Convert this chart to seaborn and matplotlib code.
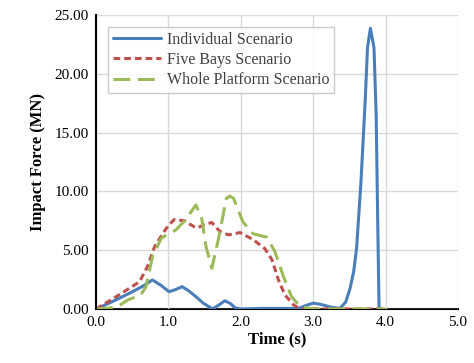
import matplotlib
matplotlib.use("Agg")
import matplotlib.pyplot as plt
import seaborn as sns
import pandas as pd

ind_t = [0, 0.2, 0.46, 0.65, 0.78, 0.9, 1.01, 1.1, 1.19, 1.28, 1.38, 1.48, 1.56, 1.61,
         1.7, 1.78, 1.86, 1.92, 2.0, 2.3, 2.6, 2.8, 2.9, 3.0, 3.1, 3.25, 3.37, 3.45,
         3.51, 3.56, 3.60, 3.66, 3.72, 3.75, 3.79, 3.84, 3.87, 3.89, 3.91]
ind_f = [0, 0.55, 1.33, 1.95, 2.47, 2.0, 1.47, 1.65, 1.9, 1.55, 1.05, 0.5, 0.2, 0.0,
         0.35, 0.7, 0.45, 0.1, 0.0, 0.05, 0.05, 0.05, 0.3, 0.5, 0.4, 0.15, 0.05, 0.6,
         1.76, 3.2, 5.2, 10.8, 17.9, 22.2, 23.87, 22.2, 16.5, 8.0, 0.0]

five_t = [0, 0.28, 0.46, 0.60, 0.71, 0.81, 0.92, 1.0, 1.08, 1.22, 1.38, 1.44, 1.5,
          1.60, 1.71, 1.83, 1.99, 2.17, 2.33, 2.43, 2.52, 2.61, 2.73, 2.82, 3.0, 4.0]
five_f = [0, 1.05, 1.76, 2.3, 3.6, 5.3, 6.4, 7.1, 7.6, 7.5, 6.9, 7.0, 7.2,
          7.35, 6.6, 6.3, 6.5, 5.9, 5.15, 4.2, 2.47, 1.2, 0.34, 0.0, 0.0, 0.0]

whole_t = [0, 0.15, 0.3, 0.44, 0.62, 0.69, 0.78, 0.90, 1.0, 1.10, 1.24, 1.38, 1.46,
           1.52, 1.60, 1.69, 1.80, 1.85, 1.90, 2.03, 2.17, 2.36, 2.47, 2.59, 2.70,
           2.82, 3.0, 4.0]
whole_f = [0, 0.05, 0.2, 0.77, 1.2, 1.9, 4.45, 6.0, 6.4, 6.7, 7.6, 8.85, 7.7,
           5.3, 3.46, 5.9, 9.4, 9.6, 9.4, 7.4, 6.4, 6.1, 4.9, 2.75, 1.05,
           0.2, 0.0, 0.0]

names = ["Individual Scenario", "Five Bays Scenario", "Whole Platform Scenario"]
x_ticks = [0, 1, 2, 3, 4, 5]
y_ticks = [0, 5, 10, 15, 20, 25]

sns.set_style("white")
plt.rcParams['font.family'] = ['Liberation Serif', 'DejaVu Serif']

fig = plt.figure(figsize=(4.74, 3.63), dpi=100)
ax = fig.add_axes([0.2025, 0.1488, 0.7637, 0.81])

colors = ["#4A7EBB", "#C0504D", "#9BBB59"]
series = [(ind_t, ind_f), (five_t, five_f), (whole_t, whole_f)]
dashes = [None, (2.2, 1.3), (5.5, 2.5)]
for (t, f), name, c, d in zip(series, names, colors, dashes):
    df = pd.DataFrame({"t": t, "f": f})
    sns.lineplot(data=df, x="t", y="f", ax=ax, color=c, lw=2.2, label=name)
    l = ax.get_lines()[-1]
    l.set_solid_joinstyle("round")
    l.set_dash_joinstyle("round")
    if d is not None:
        l.set_dashes(d)

ax.set_xlim(0, 5)
ax.set_ylim(0, 25)
ax.set_xticks(x_ticks)
ax.set_xticklabels([f"{v:.1f}" for v in x_ticks])
ax.set_yticks(y_ticks)
ax.set_yticklabels([f"{v:.2f}" for v in y_ticks])
ax.tick_params(labelsize=11, length=0, pad=5, labelcolor="black")
ax.grid(True, color="#D9D9D9", lw=1)
ax.set_axisbelow(True)
for s in ["top", "right"]:
    ax.spines[s].set_visible(False)
ax.spines["left"].set_color("black")
ax.spines["left"].set_linewidth(1.5)
ax.spines["bottom"].set_color("black")
ax.spines["bottom"].set_linewidth(1.5)
ax.spines["bottom"].set_zorder(0.5)

ax.set_xlabel("Time (s)", fontsize=12, fontweight="bold", labelpad=2, color="black")
ax.set_ylabel("Impact Force (MN)", fontsize=12, fontweight="bold", labelpad=6, color="black")

leg = ax.legend(loc="upper left", bbox_to_anchor=(0.033, 0.96), fontsize=11.5,
                frameon=True, fancybox=False, edgecolor="#BFBFBF",
                handlelength=3.0, borderpad=0.3, labelspacing=0.28, handletextpad=0.4,
                borderaxespad=0)
leg.get_frame().set_linewidth(1)
for txt in leg.get_texts():
    txt.set_color("#404040")

fig.savefig("out.png", dpi=100)
